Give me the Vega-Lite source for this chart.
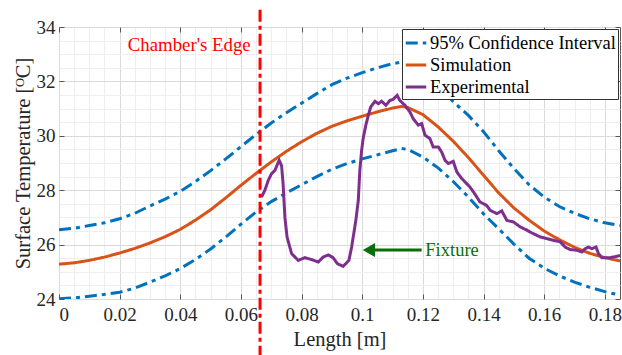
{
  "$schema": "https://vega.github.io/schema/vega-lite/v6.json",
  "autosize": {"type": "none"},
  "padding": {"left": 59, "top": 27, "right": 2, "bottom": 56},
  "width": 561,
  "height": 272,
  "config": {
    "font": "Liberation Serif",
    "view": {"stroke": "#555555", "strokeWidth": 1},
    "axis": {"labelFont": "Liberation Serif", "titleFont": "Liberation Serif", "labelColor": "#262626", "titleColor": "#262626", "titleFontWeight": "normal"},
    "legend": {"orient": "top-right", "offset": 2, "fillColor": "white", "strokeColor": "#333333", "padding": 2, "labelFont": "Liberation Serif", "labelFontSize": 18.5, "labelLimit": 0, "labelColor": "#000000", "symbolType": "stroke", "symbolSize": 420, "symbolStrokeWidth": 3, "rowPadding": 0, "labelOffset": 2}
  },
  "datasets": {
    "curves": [
      {"x": 0, "y": 26.55, "series": "95% Confidence Interval", "part": "upper"},
      {"x": 0.005, "y": 26.6, "series": "95% Confidence Interval", "part": "upper"},
      {"x": 0.01, "y": 26.7, "series": "95% Confidence Interval", "part": "upper"},
      {"x": 0.015, "y": 26.8, "series": "95% Confidence Interval", "part": "upper"},
      {"x": 0.02, "y": 26.95, "series": "95% Confidence Interval", "part": "upper"},
      {"x": 0.025, "y": 27.15, "series": "95% Confidence Interval", "part": "upper"},
      {"x": 0.03, "y": 27.42, "series": "95% Confidence Interval", "part": "upper"},
      {"x": 0.035, "y": 27.67, "series": "95% Confidence Interval", "part": "upper"},
      {"x": 0.04, "y": 27.96, "series": "95% Confidence Interval", "part": "upper"},
      {"x": 0.045, "y": 28.32, "series": "95% Confidence Interval", "part": "upper"},
      {"x": 0.05, "y": 28.72, "series": "95% Confidence Interval", "part": "upper"},
      {"x": 0.055, "y": 29.15, "series": "95% Confidence Interval", "part": "upper"},
      {"x": 0.06, "y": 29.6, "series": "95% Confidence Interval", "part": "upper"},
      {"x": 0.065, "y": 30.05, "series": "95% Confidence Interval", "part": "upper"},
      {"x": 0.07, "y": 30.47, "series": "95% Confidence Interval", "part": "upper"},
      {"x": 0.075, "y": 30.85, "series": "95% Confidence Interval", "part": "upper"},
      {"x": 0.08, "y": 31.2, "series": "95% Confidence Interval", "part": "upper"},
      {"x": 0.085, "y": 31.55, "series": "95% Confidence Interval", "part": "upper"},
      {"x": 0.09, "y": 31.88, "series": "95% Confidence Interval", "part": "upper"},
      {"x": 0.095, "y": 32.12, "series": "95% Confidence Interval", "part": "upper"},
      {"x": 0.1, "y": 32.32, "series": "95% Confidence Interval", "part": "upper"},
      {"x": 0.105, "y": 32.5, "series": "95% Confidence Interval", "part": "upper"},
      {"x": 0.11, "y": 32.65, "series": "95% Confidence Interval", "part": "upper"},
      {"x": 0.113, "y": 32.71, "series": "95% Confidence Interval", "part": "upper"},
      {"x": 0.115, "y": 32.68, "series": "95% Confidence Interval", "part": "upper"},
      {"x": 0.12, "y": 32.35, "series": "95% Confidence Interval", "part": "upper"},
      {"x": 0.125, "y": 31.85, "series": "95% Confidence Interval", "part": "upper"},
      {"x": 0.13, "y": 31.25, "series": "95% Confidence Interval", "part": "upper"},
      {"x": 0.135, "y": 30.75, "series": "95% Confidence Interval", "part": "upper"},
      {"x": 0.14, "y": 30.15, "series": "95% Confidence Interval", "part": "upper"},
      {"x": 0.145, "y": 29.45, "series": "95% Confidence Interval", "part": "upper"},
      {"x": 0.15, "y": 28.8, "series": "95% Confidence Interval", "part": "upper"},
      {"x": 0.155, "y": 28.2, "series": "95% Confidence Interval", "part": "upper"},
      {"x": 0.16, "y": 27.75, "series": "95% Confidence Interval", "part": "upper"},
      {"x": 0.165, "y": 27.4, "series": "95% Confidence Interval", "part": "upper"},
      {"x": 0.17, "y": 27.15, "series": "95% Confidence Interval", "part": "upper"},
      {"x": 0.175, "y": 26.95, "series": "95% Confidence Interval", "part": "upper"},
      {"x": 0.18, "y": 26.8, "series": "95% Confidence Interval", "part": "upper"},
      {"x": 0.185, "y": 26.7, "series": "95% Confidence Interval", "part": "upper"},
      {"x": 0, "y": 24.01, "series": "95% Confidence Interval", "part": "lower"},
      {"x": 0.005, "y": 24.04, "series": "95% Confidence Interval", "part": "lower"},
      {"x": 0.01, "y": 24.1, "series": "95% Confidence Interval", "part": "lower"},
      {"x": 0.015, "y": 24.17, "series": "95% Confidence Interval", "part": "lower"},
      {"x": 0.02, "y": 24.25, "series": "95% Confidence Interval", "part": "lower"},
      {"x": 0.025, "y": 24.4, "series": "95% Confidence Interval", "part": "lower"},
      {"x": 0.03, "y": 24.62, "series": "95% Confidence Interval", "part": "lower"},
      {"x": 0.035, "y": 24.85, "series": "95% Confidence Interval", "part": "lower"},
      {"x": 0.04, "y": 25.12, "series": "95% Confidence Interval", "part": "lower"},
      {"x": 0.045, "y": 25.45, "series": "95% Confidence Interval", "part": "lower"},
      {"x": 0.05, "y": 25.84, "series": "95% Confidence Interval", "part": "lower"},
      {"x": 0.055, "y": 26.28, "series": "95% Confidence Interval", "part": "lower"},
      {"x": 0.06, "y": 26.75, "series": "95% Confidence Interval", "part": "lower"},
      {"x": 0.065, "y": 27.2, "series": "95% Confidence Interval", "part": "lower"},
      {"x": 0.07, "y": 27.58, "series": "95% Confidence Interval", "part": "lower"},
      {"x": 0.075, "y": 27.9, "series": "95% Confidence Interval", "part": "lower"},
      {"x": 0.08, "y": 28.2, "series": "95% Confidence Interval", "part": "lower"},
      {"x": 0.085, "y": 28.5, "series": "95% Confidence Interval", "part": "lower"},
      {"x": 0.09, "y": 28.77, "series": "95% Confidence Interval", "part": "lower"},
      {"x": 0.095, "y": 28.98, "series": "95% Confidence Interval", "part": "lower"},
      {"x": 0.1, "y": 29.15, "series": "95% Confidence Interval", "part": "lower"},
      {"x": 0.105, "y": 29.3, "series": "95% Confidence Interval", "part": "lower"},
      {"x": 0.11, "y": 29.45, "series": "95% Confidence Interval", "part": "lower"},
      {"x": 0.113, "y": 29.53, "series": "95% Confidence Interval", "part": "lower"},
      {"x": 0.115, "y": 29.5, "series": "95% Confidence Interval", "part": "lower"},
      {"x": 0.12, "y": 29.22, "series": "95% Confidence Interval", "part": "lower"},
      {"x": 0.125, "y": 28.82, "series": "95% Confidence Interval", "part": "lower"},
      {"x": 0.13, "y": 28.32, "series": "95% Confidence Interval", "part": "lower"},
      {"x": 0.135, "y": 27.75, "series": "95% Confidence Interval", "part": "lower"},
      {"x": 0.14, "y": 27.13, "series": "95% Confidence Interval", "part": "lower"},
      {"x": 0.145, "y": 26.58, "series": "95% Confidence Interval", "part": "lower"},
      {"x": 0.15, "y": 26.02, "series": "95% Confidence Interval", "part": "lower"},
      {"x": 0.155, "y": 25.5, "series": "95% Confidence Interval", "part": "lower"},
      {"x": 0.16, "y": 25.13, "series": "95% Confidence Interval", "part": "lower"},
      {"x": 0.165, "y": 24.85, "series": "95% Confidence Interval", "part": "lower"},
      {"x": 0.17, "y": 24.62, "series": "95% Confidence Interval", "part": "lower"},
      {"x": 0.175, "y": 24.43, "series": "95% Confidence Interval", "part": "lower"},
      {"x": 0.18, "y": 24.27, "series": "95% Confidence Interval", "part": "lower"},
      {"x": 0.185, "y": 24.14, "series": "95% Confidence Interval", "part": "lower"},
      {"x": 0, "y": 25.28, "series": "Simulation", "part": "sim"},
      {"x": 0.005, "y": 25.33, "series": "Simulation", "part": "sim"},
      {"x": 0.01, "y": 25.42, "series": "Simulation", "part": "sim"},
      {"x": 0.015, "y": 25.54, "series": "Simulation", "part": "sim"},
      {"x": 0.02, "y": 25.69, "series": "Simulation", "part": "sim"},
      {"x": 0.025, "y": 25.86, "series": "Simulation", "part": "sim"},
      {"x": 0.03, "y": 26.06, "series": "Simulation", "part": "sim"},
      {"x": 0.035, "y": 26.29, "series": "Simulation", "part": "sim"},
      {"x": 0.04, "y": 26.56, "series": "Simulation", "part": "sim"},
      {"x": 0.045, "y": 26.9, "series": "Simulation", "part": "sim"},
      {"x": 0.05, "y": 27.28, "series": "Simulation", "part": "sim"},
      {"x": 0.055, "y": 27.72, "series": "Simulation", "part": "sim"},
      {"x": 0.06, "y": 28.18, "series": "Simulation", "part": "sim"},
      {"x": 0.065, "y": 28.62, "series": "Simulation", "part": "sim"},
      {"x": 0.07, "y": 29.04, "series": "Simulation", "part": "sim"},
      {"x": 0.075, "y": 29.43, "series": "Simulation", "part": "sim"},
      {"x": 0.08, "y": 29.78, "series": "Simulation", "part": "sim"},
      {"x": 0.085, "y": 30.09, "series": "Simulation", "part": "sim"},
      {"x": 0.09, "y": 30.35, "series": "Simulation", "part": "sim"},
      {"x": 0.095, "y": 30.55, "series": "Simulation", "part": "sim"},
      {"x": 0.1, "y": 30.72, "series": "Simulation", "part": "sim"},
      {"x": 0.105, "y": 30.88, "series": "Simulation", "part": "sim"},
      {"x": 0.11, "y": 31.02, "series": "Simulation", "part": "sim"},
      {"x": 0.113, "y": 31.08, "series": "Simulation", "part": "sim"},
      {"x": 0.115, "y": 31.04, "series": "Simulation", "part": "sim"},
      {"x": 0.12, "y": 30.78, "series": "Simulation", "part": "sim"},
      {"x": 0.125, "y": 30.33, "series": "Simulation", "part": "sim"},
      {"x": 0.13, "y": 29.8, "series": "Simulation", "part": "sim"},
      {"x": 0.135, "y": 29.2, "series": "Simulation", "part": "sim"},
      {"x": 0.14, "y": 28.55, "series": "Simulation", "part": "sim"},
      {"x": 0.145, "y": 27.9, "series": "Simulation", "part": "sim"},
      {"x": 0.15, "y": 27.35, "series": "Simulation", "part": "sim"},
      {"x": 0.155, "y": 26.9, "series": "Simulation", "part": "sim"},
      {"x": 0.16, "y": 26.5, "series": "Simulation", "part": "sim"},
      {"x": 0.165, "y": 26.18, "series": "Simulation", "part": "sim"},
      {"x": 0.17, "y": 25.9, "series": "Simulation", "part": "sim"},
      {"x": 0.175, "y": 25.68, "series": "Simulation", "part": "sim"},
      {"x": 0.18, "y": 25.52, "series": "Simulation", "part": "sim"},
      {"x": 0.185, "y": 25.4, "series": "Simulation", "part": "sim"}
    ],
    "exp": [
      {"x": 0.0668, "y": 27.75, "series": "Experimental"},
      {"x": 0.0679, "y": 28.0, "series": "Experimental"},
      {"x": 0.069, "y": 28.36, "series": "Experimental"},
      {"x": 0.0701, "y": 28.61, "series": "Experimental"},
      {"x": 0.0712, "y": 28.73, "series": "Experimental"},
      {"x": 0.0726, "y": 29.1, "series": "Experimental"},
      {"x": 0.0734, "y": 28.9, "series": "Experimental"},
      {"x": 0.0739, "y": 28.24, "series": "Experimental"},
      {"x": 0.0745, "y": 27.0, "series": "Experimental"},
      {"x": 0.0752, "y": 26.28, "series": "Experimental"},
      {"x": 0.0767, "y": 25.67, "series": "Experimental"},
      {"x": 0.0789, "y": 25.42, "series": "Experimental"},
      {"x": 0.0811, "y": 25.52, "series": "Experimental"},
      {"x": 0.0833, "y": 25.45, "series": "Experimental"},
      {"x": 0.0855, "y": 25.36, "series": "Experimental"},
      {"x": 0.0871, "y": 25.54, "series": "Experimental"},
      {"x": 0.0888, "y": 25.62, "series": "Experimental"},
      {"x": 0.0904, "y": 25.52, "series": "Experimental"},
      {"x": 0.0918, "y": 25.3, "series": "Experimental"},
      {"x": 0.0937, "y": 25.2, "series": "Experimental"},
      {"x": 0.0956, "y": 25.42, "series": "Experimental"},
      {"x": 0.0965, "y": 25.91, "series": "Experimental"},
      {"x": 0.0979, "y": 26.9, "series": "Experimental"},
      {"x": 0.0987, "y": 27.63, "series": "Experimental"},
      {"x": 0.0992, "y": 28.73, "series": "Experimental"},
      {"x": 0.0998, "y": 29.47, "series": "Experimental"},
      {"x": 0.1003, "y": 29.9, "series": "Experimental"},
      {"x": 0.1012, "y": 30.4, "series": "Experimental"},
      {"x": 0.102, "y": 30.75, "series": "Experimental"},
      {"x": 0.1028, "y": 31.06, "series": "Experimental"},
      {"x": 0.1042, "y": 31.27, "series": "Experimental"},
      {"x": 0.1053, "y": 31.18, "series": "Experimental"},
      {"x": 0.1064, "y": 31.27, "series": "Experimental"},
      {"x": 0.1078, "y": 31.12, "series": "Experimental"},
      {"x": 0.1091, "y": 31.3, "series": "Experimental"},
      {"x": 0.1102, "y": 31.34, "series": "Experimental"},
      {"x": 0.1115, "y": 31.49, "series": "Experimental"},
      {"x": 0.1124, "y": 31.3, "series": "Experimental"},
      {"x": 0.1141, "y": 31.12, "series": "Experimental"},
      {"x": 0.1157, "y": 30.88, "series": "Experimental"},
      {"x": 0.1168, "y": 30.63, "series": "Experimental"},
      {"x": 0.1185, "y": 30.39, "series": "Experimental"},
      {"x": 0.1196, "y": 30.45, "series": "Experimental"},
      {"x": 0.1207, "y": 30.02, "series": "Experimental"},
      {"x": 0.1223, "y": 29.9, "series": "Experimental"},
      {"x": 0.1234, "y": 29.59, "series": "Experimental"},
      {"x": 0.1251, "y": 29.59, "series": "Experimental"},
      {"x": 0.1262, "y": 29.4, "series": "Experimental"},
      {"x": 0.1273, "y": 29.1, "series": "Experimental"},
      {"x": 0.1284, "y": 28.98, "series": "Experimental"},
      {"x": 0.13, "y": 29.06, "series": "Experimental"},
      {"x": 0.1312, "y": 28.67, "series": "Experimental"},
      {"x": 0.1328, "y": 28.43, "series": "Experimental"},
      {"x": 0.1355, "y": 28.12, "series": "Experimental"},
      {"x": 0.1372, "y": 27.85, "series": "Experimental"},
      {"x": 0.1388, "y": 27.57, "series": "Experimental"},
      {"x": 0.141, "y": 27.44, "series": "Experimental"},
      {"x": 0.1422, "y": 27.26, "series": "Experimental"},
      {"x": 0.1444, "y": 27.14, "series": "Experimental"},
      {"x": 0.146, "y": 27.24, "series": "Experimental"},
      {"x": 0.1477, "y": 26.89, "series": "Experimental"},
      {"x": 0.1499, "y": 26.83, "series": "Experimental"},
      {"x": 0.1521, "y": 26.65, "series": "Experimental"},
      {"x": 0.1543, "y": 26.53, "series": "Experimental"},
      {"x": 0.1559, "y": 26.43, "series": "Experimental"},
      {"x": 0.1576, "y": 26.34, "series": "Experimental"},
      {"x": 0.1587, "y": 26.28, "series": "Experimental"},
      {"x": 0.1609, "y": 26.22, "series": "Experimental"},
      {"x": 0.163, "y": 26.16, "series": "Experimental"},
      {"x": 0.1653, "y": 26.1, "series": "Experimental"},
      {"x": 0.1669, "y": 25.91, "series": "Experimental"},
      {"x": 0.1685, "y": 25.82, "series": "Experimental"},
      {"x": 0.1708, "y": 25.79, "series": "Experimental"},
      {"x": 0.1724, "y": 25.73, "series": "Experimental"},
      {"x": 0.1735, "y": 25.85, "series": "Experimental"},
      {"x": 0.1746, "y": 25.91, "series": "Experimental"},
      {"x": 0.1757, "y": 25.85, "series": "Experimental"},
      {"x": 0.1771, "y": 25.91, "series": "Experimental"},
      {"x": 0.1779, "y": 25.67, "series": "Experimental"},
      {"x": 0.179, "y": 25.52, "series": "Experimental"},
      {"x": 0.1817, "y": 25.52, "series": "Experimental"},
      {"x": 0.184, "y": 25.57, "series": "Experimental"},
      {"x": 0.185, "y": 25.6, "series": "Experimental"}
    ],
    "edge": [{"x": 0.0663, "y": 34.63, "y2": 21.9, "label": "Chamber's Edge", "lx": 0.0227, "ly": 33.34}],
    "fixture": [{"x": 0.1035, "x2": 0.1196, "y": 25.8, "tip": 0.1022, "tx": 0.1208, "label": "Fixture"}]
  },
  "resolve": {"axis": {"x": "independent", "y": "independent"}},
  "layer": [
    {
      "data": {"name": "curves"},
      "mark": {"type": "line", "strokeWidth": 3, "strokeCap": "butt", "clip": true},
      "encoding": {
        "x": {"field": "x", "type": "quantitative", "scale": {"domain": [0, 0.185], "nice": false, "zero": false},
          "axis": {"orient": "bottom", "values": [0, 0.02, 0.04, 0.06, 0.08, 0.1, 0.12, 0.14, 0.16, 0.18], "format": ".2~f", "labelFontSize": 19, "labelPadding": 11, "tickSize": -5, "tickColor": "#555555", "domain": false, "grid": true, "gridColor": "#DADADA", "title": "Length [m]", "titleFontSize": 20.5, "titlePadding": 5}},
        "y": {"field": "y", "type": "quantitative", "scale": {"domain": [24, 34], "nice": false, "zero": false},
          "axis": {"orient": "left", "values": [24, 26, 28, 30, 32, 34], "labelFontSize": 19, "labelPadding": 9, "tickSize": -5, "tickColor": "#555555", "domain": false, "grid": true, "gridColor": "#DADADA", "title": "Surface Temperature [ᴼC]", "titleFontSize": 20.5, "titlePadding": 3}},
        "color": {"field": "series", "type": "nominal", "scale": {"domain": ["95% Confidence Interval", "Simulation", "Experimental"], "range": ["#0072BD", "#D95319", "#7E2F8E"]}, "legend": {"title": null}},
        "strokeDash": {"field": "series", "type": "nominal", "scale": {"domain": ["95% Confidence Interval", "Simulation", "Experimental"], "range": [[12, 5, 4, 5], [1, 0], [1, 0]]}, "legend": {"title": null}},
        "detail": {"field": "part", "type": "nominal"}
      }
    },
    {
      "data": {"name": "exp"},
      "mark": {"type": "line", "strokeWidth": 3, "clip": true},
      "encoding": {
        "x": {"field": "x", "type": "quantitative",
          "axis": {"orient": "top", "values": [0.005, 0.01, 0.015, 0.025, 0.03, 0.035, 0.045, 0.05, 0.055, 0.065, 0.07, 0.075, 0.085, 0.09, 0.095, 0.105, 0.11, 0.115, 0.125, 0.13, 0.135, 0.145, 0.15, 0.155, 0.165, 0.17, 0.175], "labels": false, "ticks": false, "domain": false, "grid": true, "gridColor": "#EEEEEE", "title": null}},
        "y": {"field": "y", "type": "quantitative",
          "axis": {"orient": "right", "values": [24.5, 25, 25.5, 26.5, 27, 27.5, 28.5, 29, 29.5, 30.5, 31, 31.5, 32.5, 33, 33.5], "labels": false, "ticks": false, "domain": false, "grid": true, "gridColor": "#EEEEEE", "title": null}},
        "color": {"field": "series", "type": "nominal"},
        "strokeDash": {"field": "series", "type": "nominal"}
      }
    },
    {
      "data": {"name": "edge"},
      "mark": {"type": "rule", "color": "#FF0000", "strokeWidth": 3, "strokeDash": [12, 4, 4, 4], "clip": false},
      "encoding": {
        "x": {"field": "x", "type": "quantitative",
          "axis": {"orient": "top", "values": [0, 0.02, 0.04, 0.06, 0.08, 0.1, 0.12, 0.14, 0.16, 0.18], "labels": false, "tickSize": -5, "tickColor": "#555555", "domain": false, "grid": false, "title": null}},
        "y": {"field": "y", "type": "quantitative",
          "axis": {"orient": "right", "values": [24, 26, 28, 30, 32, 34], "labels": false, "tickSize": -5, "tickColor": "#555555", "domain": false, "grid": false, "title": null}},
        "y2": {"field": "y2"}
      }
    },
    {
      "data": {"name": "edge"},
      "mark": {"type": "text", "color": "#FF0000", "fontSize": 18.8, "font": "Liberation Serif", "align": "left", "baseline": "middle"},
      "encoding": {
        "x": {"field": "lx", "type": "quantitative", "axis": null},
        "y": {"field": "ly", "type": "quantitative", "axis": null},
        "text": {"field": "label"}
      }
    },
    {
      "data": {"name": "fixture"},
      "mark": {"type": "rule", "color": "#0A6E0A", "strokeWidth": 3},
      "encoding": {
        "x": {"field": "x", "type": "quantitative", "axis": null},
        "x2": {"field": "x2"},
        "y": {"field": "y", "type": "quantitative", "axis": null}
      }
    },
    {
      "data": {"name": "fixture"},
      "mark": {"type": "point", "shape": "triangle-left", "filled": true, "color": "#0A6E0A", "size": 200, "opacity": 1},
      "encoding": {
        "x": {"field": "tip", "type": "quantitative", "axis": null},
        "y": {"field": "y", "type": "quantitative", "axis": null}
      }
    },
    {
      "data": {"name": "fixture"},
      "mark": {"type": "text", "color": "#0A6E0A", "fontSize": 18.5, "font": "Liberation Serif", "align": "left", "baseline": "middle"},
      "encoding": {
        "x": {"field": "tx", "type": "quantitative", "axis": null},
        "y": {"field": "y", "type": "quantitative", "axis": null},
        "text": {"field": "label"}
      }
    }
  ]
}
